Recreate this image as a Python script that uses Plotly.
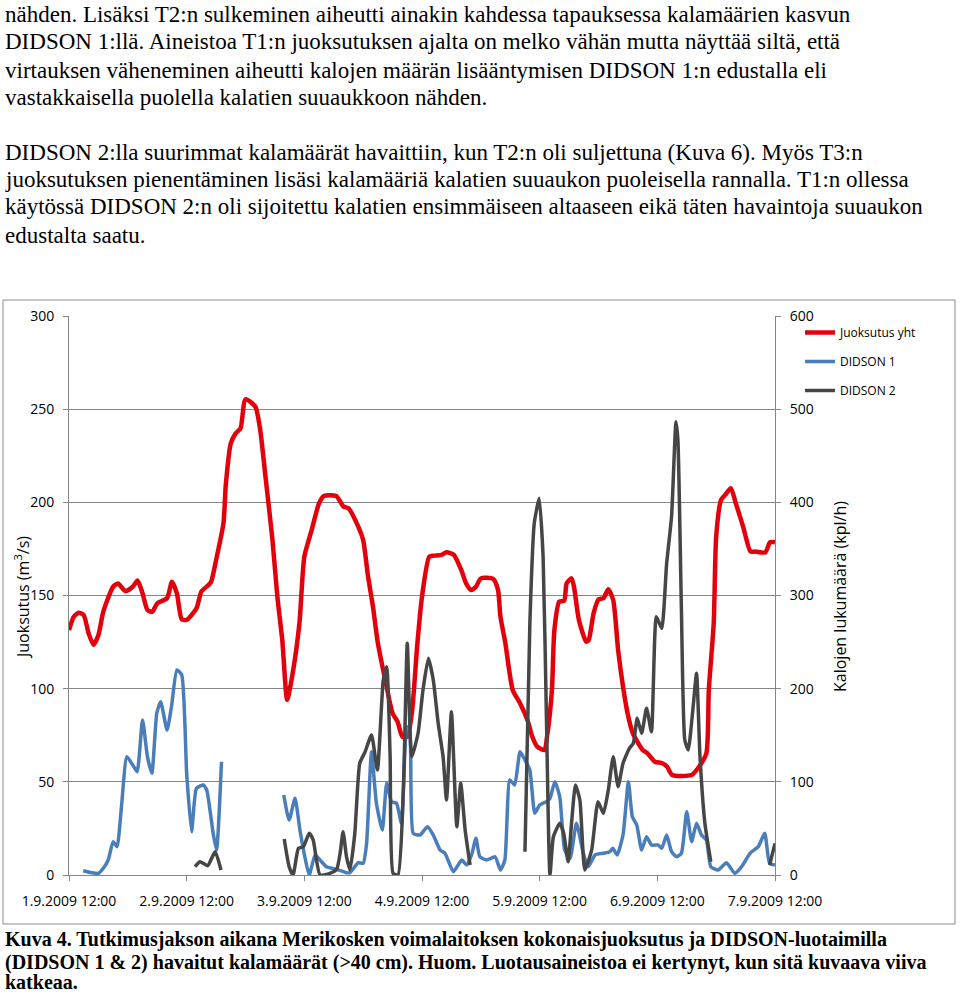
import plotly.graph_objects as go

# ---------------- data (hours since 1.9.2009 12:00) ----------------
flow_hours = [0, 1, 2, 3, 4, 5, 6, 7, 9, 10, 11.5, 13, 14, 15, 16, 17, 18, 20, 21, 22, 23, 24,
              26, 27, 28.5, 29, 30, 31.5, 32, 33, 34, 35, 36, 38, 39, 40, 41.5, 42.5, 43.5, 44.5,
              45.5, 47, 48, 49.5, 51, 52, 54.5, 56, 57, 59, 60, 61, 62, 63, 64.5, 66, 67, 68, 69,
              70, 71, 72, 73.5, 74.5, 76, 77, 78.5, 80, 81, 82, 83, 84, 86.5, 87.5, 88, 89, 90.5,
              92, 93.5, 94.5, 95.5, 97, 97.5, 98.5, 99, 100, 101, 101.5, 102.5, 103, 104, 105.5,
              106, 107, 108, 109, 110, 111, 112, 113, 114, 115, 117, 118, 119.5, 121, 122, 123,
              127, 128.5, 130, 130.5, 131.5, 132, 133, 134, 135, 136, 137.5, 139, 140, 142, 143, 144]
flow_values = [131.5, 138.7, 140.8, 139.5, 129.7, 123.5, 128.8, 141.3, 154.7, 156.5, 152.4, 154.7,
               158, 151.2, 142.2, 141.3, 145.8, 148.5, 157.4, 151.2, 137.2, 136.9, 143.1, 152.1,
               155.7, 157.4, 169, 188.8, 210, 231.7, 237, 239.8, 255.3, 251.4, 238.9, 215.6, 179.8,
               149.4, 126.1, 94, 106.4, 135.1, 170.9, 185.2, 199.5, 203.4, 203.4, 197.7, 196.8, 187,
               179.8, 160.1, 144, 124.4, 104.7, 86.8, 82.3, 74.2, 74.2, 88.6, 122.5, 149.4, 170.9,
               171.4, 171.8, 173.2, 171.8, 163.7, 156.5, 153, 154.7, 159.2, 158.9, 153, 138.7, 124.4,
               99.3, 92.2, 83.2, 74.2, 68.9, 67.1, 74.2, 99.3, 131.5, 146.7, 147.2, 156.5, 159.2,
               154.7, 136.9, 125.2, 126.1, 140.4, 147.9, 148.5, 153.3, 147.6, 120.8, 101.1, 85.9,
               76.1, 67.1, 65.3, 60.8, 60, 58.1, 53.7, 53.7, 58.1, 65.3, 99.3, 135.1, 181.6, 201.3,
               204.5, 207.6, 199.5, 187, 173.6, 173.6, 173.1, 178.6, 178.6]

# DIDSON 1 (None = no data, line breaks)
d1_hours = [2.9, 4.6, 6.0, 7.0, 8.0, 9.0, 9.8, 10.7, 11.8, 13.0, 13.9, 15.0, 16.0, 16.9, 17.9,
            18.7, 20.0, 20.9, 22.0, 23.0, 24.0, 25.0, 26.0, 27.4, 28.1, 29.4, 30.1, 31.1,
            37.0,
            43.8, 44.9, 46.1, 47.1, 48.1, 49.0, 50.2, 51.2, 52.5, 54.6, 56.6, 57.3, 59.0, 60.0,
            60.7, 61.7, 62.7, 63.9, 64.8, 65.8, 66.8, 67.8, 68.9, 69.5, 70.2, 71.6, 73.1, 74.3,
            75.7, 76.7, 78.4, 80.1, 81.1, 82.1, 83.0, 83.8, 85.2, 86.9, 88.0, 88.9, 89.9, 90.9,
            92.0, 93.0, 94.0, 95.0, 96.0, 97.4, 98.1, 99.1, 100.1, 101.1, 102.2, 103.5, 104.9,
            105.9, 107.3, 109.0, 110.3, 110.9, 111.8, 113.0, 114.1, 114.9, 115.8, 116.8, 117.8,
            118.8, 120.2, 120.9, 121.9, 122.9, 123.9, 124.9, 126.0, 127.0, 128.0, 129.0, 130.0,
            130.9, 132.4, 134.1, 135.8, 137.2, 138.9, 140.6, 141.9, 142.9, 144.0]
d1_values = [4.6, 2.5, 1.8, 7.2, 16.1, 35.8, 30.4, 73.3, 127, 118, 110.9, 166.4, 127, 109.2, 173.6,
             186, 155.6, 180.6, 220, 214.7, 109.2, 46.5, 93, 96.6, 91.2, 44.8, 26.8, 121.6,
             None,
             85.9, 59, 82.3, 48.3, 19.6, 0, 21.5, 16.1, 8.9, 6.1, 2.5, 2.5, 13.2, 12.5,
             34, 132.3, 77, 48.3, 98.4, 78.7, 77, 55.5, 159.2, 155.6, 44.8, 42.9, 51.8, 42.9,
             26.8, 23.3, 3.6, 16.1, 10.7, 21.5, 39.4, 19.6, 16.1, 19.6, 5.4, 16.1, 102, 96.6,
             132.3, 123.4, 112.7, 66.2, 75.1, 78.7, 82.3, 100.1, 84, 26.8, 17.9, 55.5, 23.3,
             8.9, 21.5, 23.3, 25, 28.7, 21.5, 42.9, 100.1, 62.6, 53.7, 26.8, 41.1,
             32.2, 32.2, 28.7, 42.9, 25, 19.6, 23.3, 67.9, 35.8, 55.5, 42.9, 37.6,
             8.9, 5.4, 13.2, 1.8, 8.9, 23.3, 30.4, 44.8, 12.5, 10.7]

# DIDSON 2 (None = no data, line breaks)
d2_hours = [25.7, 26.7, 28.3, 29.8, 31.0,
            37.0,
            43.9, 44.9, 45.7, 46.8, 47.8, 49.0, 49.8, 51.2, 53.2, 54.6, 55.3, 55.9, 56.6, 57.3,
            58.3, 59.3, 60.4, 61.7, 62.9, 64.1, 64.8, 65.5, 66.1, 67.1, 68.2, 69.0, 69.9, 71.2,
            72.2, 73.3, 74.3, 75.3, 76.3, 77.0, 78.0, 79.1, 79.9, 80.8, 81.8,
            87.0,
            93.0, 94.0, 94.9, 95.9, 96.7, 97.4, 98.1, 98.8, 100.1, 100.9, 101.8, 102.5, 103.3,
            104.2, 105.2, 106.6, 107.9, 109.0, 110.0, 111.0, 112.0, 113.0, 114.3, 115.1, 115.9,
            116.8, 117.8, 118.8, 119.8, 120.9, 121.9, 122.9, 123.8, 124.2, 124.9, 125.6, 126.3,
            127.3, 128.0, 128.7, 129.7, 130.9,
            136.0,
            142.9, 144.0]
d2_values = [8.9, 14.3, 10, 25, 5.4,
             None,
             38.6, 8.9, 0, 28.7, 30.4, 44.8, 37.6, 0, 1.8, 6.1, 23.3, 46.5, 19.6, 5.4,
             44.8, 119.9, 132.3, 150.3, 112.7, 209.3, 223.6, 127, 1.8, 0, 91.2, 248.7, 127, 152.1,
             198.6, 232.6, 209.3, 162.8, 127, 80.5, 175.3, 51.8, 98.4, 48.3, 10.7,
             None,
             25, 270, 377.5, 404.3, 341.6, 162.8, 0, 41.1, 55.5, 44.8, 14.3, 55.5, 96.6,
             80.5, 5.4, 26.8, 78.7, 66.2, 91.2, 127, 94.8, 119.9, 136, 141.3, 168.2,
             152.1, 178.9, 153.8, 277.2, 264.7, 334.5, 384.6, 486.5, 466.9, 288, 144.9, 134.2,
             180.6, 216.5, 127, 55.5, 14.3,
             None,
             10.7, 34]

tick_hours = [0, 24, 48, 72, 96, 120, 144]
tick_labels = ["1.9.2009 12:00", "2.9.2009 12:00", "3.9.2009 12:00", "4.9.2009 12:00",
               "5.9.2009 12:00", "6.9.2009 12:00", "7.9.2009 12:00"]

series_names = ["Juoksutus yht", "DIDSON 1", "DIDSON 2"]

body_lines = [
    "nähden. Lisäksi T2:n sulkeminen aiheutti ainakin kahdessa tapauksessa kalamäärien kasvun",
    "DIDSON 1:llä. Aineistoa T1:n juoksutuksen ajalta on melko vähän mutta näyttää siltä, että",
    "virtauksen väheneminen aiheutti kalojen määrän lisääntymisen DIDSON 1:n edustalla eli",
    "vastakkaisella puolella kalatien suuaukkoon nähden.",
    "DIDSON 2:lla suurimmat kalamäärät havaittiin, kun T2:n oli suljettuna (Kuva 6). Myös T3:n",
    "juoksutuksen pienentäminen lisäsi kalamääriä kalatien suuaukon puoleisella rannalla. T1:n ollessa",
    "käytössä DIDSON 2:n oli sijoitettu kalatien ensimmäiseen altaaseen eikä täten havaintoja suuaukon",
    "edustalta saatu.",
]
caption_lines = [
    "Kuva 4. Tutkimusjakson aikana Merikosken voimalaitoksen kokonaisjuoksutus ja DIDSON-luotaimilla",
    "(DIDSON 1 &amp; 2) havaitut kalamäärät (&gt;40 cm). Huom. Luotausaineistoa ei kertynyt, kun sitä kuvaava viiva",
    "katkeaa.",
]

# ---------------- layout helpers (page pixel -> paper coords) ----------------
PAGE_W, PAGE_H = 960, 994
L, R, T, B = 69, 775, 316, 875


def px(x):
    return (x - L) / (R - L)


def py(y):
    return (B - y) / (B - T)


fig = go.Figure()
fig.add_trace(go.Scatter(x=flow_hours, y=flow_values, name=series_names[0], mode="lines",
                         line=dict(color="#E3000B", width=4.5, shape="spline", smoothing=0.6),
                         legendgroup="a", yaxis="y"))
fig.add_trace(go.Scatter(x=d1_hours, y=d1_values, name=series_names[1], mode="lines",
                         line=dict(color="#4A7EBB", width=3.5, shape="spline", smoothing=0.5),
                         connectgaps=False, legendgroup="b", yaxis="y2"))
fig.add_trace(go.Scatter(x=d2_hours, y=d2_values, name=series_names[2], mode="lines",
                         line=dict(color="#464646", width=3.5, shape="spline", smoothing=0.5),
                         connectgaps=False, legendgroup="c", yaxis="y2"))

tickfont = dict(family="Open Sans", size=14, color="#000000")

annotations = []
body_y = [14, 42, 70, 97, 152, 180, 207, 235]
for txt, yy in zip(body_lines, body_y):
    annotations.append(dict(text=txt, x=px(3), y=py(yy), xref="paper", yref="paper",
                            xanchor="left", yanchor="middle", showarrow=False,
                            font=dict(family="Liberation Serif", size=23, color="#000000")))
cap_y = [939, 962, 982]
for txt, yy in zip(caption_lines, cap_y):
    annotations.append(dict(text="<b>" + txt + "</b>", x=px(3), y=py(yy), xref="paper", yref="paper",
                            xanchor="left", yanchor="middle", showarrow=False,
                            font=dict(family="Liberation Serif", size=20, color="#000000")))
annotations.append(dict(text="Juoksutus (m<sup>3</sup>/s)", x=px(22), y=py(598), xref="paper",
                        yref="paper", textangle=-90, showarrow=False, xanchor="center",
                        yanchor="middle", font=dict(family="Open Sans", size=16, color="#000000")))
annotations.append(dict(text="Kalojen lukumäärä (kpl/h)", x=px(840), y=py(596), xref="paper",
                        yref="paper", textangle=-90, showarrow=False, xanchor="center",
                        yanchor="middle", font=dict(family="Open Sans", size=16, color="#000000")))

fig.update_layout(
    width=PAGE_W, height=PAGE_H,
    margin=dict(l=L, r=PAGE_W - R, t=T, b=PAGE_H - B, pad=0),
    paper_bgcolor="white", plot_bgcolor="white",
    showlegend=True,
    legend=dict(x=px(800), y=py(318), xanchor="left", yanchor="top", bgcolor="rgba(0,0,0,0)",
                font=dict(family="Open Sans", size=12, color="#000000"), tracegroupgap=10,
                itemwidth=30),
    xaxis=dict(range=[0, 144], tickmode="array", tickvals=tick_hours, ticktext=tick_labels,
               showgrid=False, zeroline=False, showline=True, linecolor="#868686", linewidth=1,
               ticks="outside", ticklen=5, tickcolor="#868686", tickfont=tickfont,
               ticklabelstandoff=8),
    yaxis=dict(range=[0, 300], dtick=50, showgrid=True, gridcolor="#868686", gridwidth=1,
               zeroline=False, showline=True, linecolor="#868686", linewidth=1,
               ticks="outside", ticklen=5, tickcolor="#868686", tickfont=tickfont,
               ticklabelstandoff=6),
    yaxis2=dict(range=[0, 600], dtick=100, overlaying="y", side="right", showgrid=False,
                zeroline=False, showline=True, linecolor="#868686", linewidth=1,
                ticks="outside", ticklen=5, tickcolor="#868686", tickfont=tickfont,
                ticklabelstandoff=6),
    annotations=annotations,
    shapes=[dict(type="rect", xref="paper", yref="paper", x0=px(3), x1=px(955),
                 y0=py(924), y1=py(300), line=dict(color="#8C8C8C", width=1), layer="below")],
)

# remove the default 8 px page margin so the figure fills the window exactly
fig.write_html("out.html", config={"displayModeBar": False},
               post_script="document.body.style.margin='0px';document.body.style.overflow='hidden';")
